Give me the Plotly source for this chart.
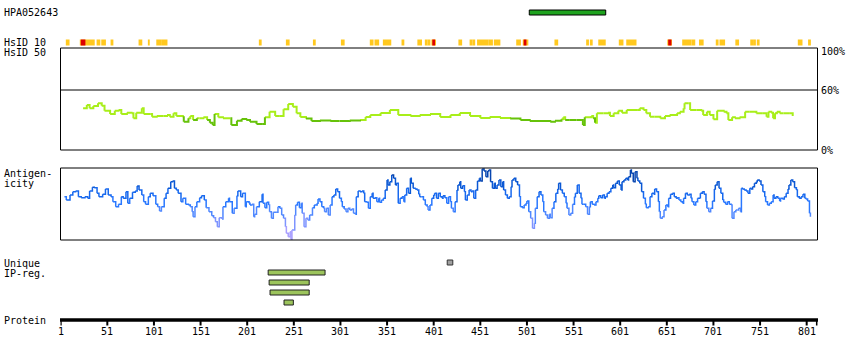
import plotly.graph_objects as go

W, H = 850, 360

# ---------------- data ----------------
antigen_name = "HPA052643"
antigen_start, antigen_end = 504, 585
protein_length = 812

hsid10_start = [7, 22, 40, 45, 55, 85, 95, 104, 110, 214, 243, 272, 302, 333, 338, 347, 367, 384, 392, 395,
                399, 428, 440, 443, 448, 460, 466, 490, 497, 531, 565, 569, 578, 600, 608, 652, 668, 678, 686,
                704, 708, 725, 741, 744, 748, 792, 803]
hsid10_end = [10, 37, 43, 49, 57, 88, 96, 109, 115, 216, 246, 274, 305, 336, 342, 355, 369, 388, 394, 397,
              403, 431, 442, 445, 459, 464, 472, 494, 502, 534, 567, 571, 585, 604, 618, 656, 677, 681, 690,
              706, 713, 728, 743, 746, 750, 796, 805]
hsid10_red_start = [23, 400, 498, 653]
hsid10_red_end = [27, 402, 500, 655.5]

hsid50_points = [
    (25, 41.7), (29, 45), (32, 41.7), (36, 44), (41, 46.7), (45, 44.3), (48, 39.3), (54, 36), (59, 39.3),
    (63, 40), (66, 36), (72, 37.3), (77, 36.7), (79, 31.7), (82, 37.3), (88, 41.7), (90, 36), (97, 36),
    (99, 33.3), (104, 34), (111, 34), (115, 35), (118, 33.3), (122, 36.7), (125, 34), (132, 32.7),
    (133, 28.3), (138, 31.7), (140, 34), (143, 30), (147, 31.7), (150, 31.7), (154, 32.7), (158, 30),
    (161, 27.3), (164, 25), (166, 36), (170, 32.7), (175, 31.7), (183, 31.7), (184, 25), (190, 29.3),
    (195, 31), (200, 30), (204, 28.3), (211, 26), (217, 26), (220, 32.7), (225, 38.3), (231, 34),
    (236, 34), (240, 40.7), (245, 46), (250, 43.3), (254, 36.7), (258, 33), (264, 31.5), (270, 29),
    (279, 29.5), (290, 29), (300, 29), (311, 29.5), (322, 30), (328, 33), (333, 35), (344, 37), (354, 40),
    (363, 35), (376, 34), (386, 35), (397, 36), (408, 33), (419, 35), (429, 37), (440, 34), (451, 32),
    (461, 33), (472, 32), (483, 31.5), (494, 30), (504, 29), (515, 29), (526, 28.3), (531, 29.3),
    (538, 30.7), (540, 32.7), (542, 30), (547, 30), (554, 30), (560, 30), (561, 25), (563, 32.7),
    (570, 34), (572, 31.7), (574, 27.3), (576, 36.7), (583, 36.7), (588, 37.3), (590, 34), (594, 36.7),
    (599, 39.3), (603, 37.3), (608, 40), (620, 40), (622, 41.7), (626, 40), (629, 36.7), (633, 33.3),
    (638, 33.3), (644, 31.7), (649, 34), (654, 35), (662, 36.7), (665, 38.3), (669, 41.7), (670, 46.7),
    (674, 46.7), (676, 40), (683, 40), (688, 39.3), (690, 35), (694, 38.3), (697, 35), (701, 30.7),
    (705, 39.3), (708, 39.3), (712, 38.3), (715, 36.7), (717, 30), (721, 32.7), (724, 31.7), (729, 32.7),
    (735, 38.3), (740, 38.3), (747, 36.7), (754, 36.7), (758, 33.3), (760, 38.3), (763, 37.3), (765, 31.7),
    (767, 36.7), (769, 38.3), (772, 36.7), (776, 36.7), (783, 36.7), (786, 34),
]

antigenicity_points = [
    (5, 43.3), (7, 40), (11, 45), (14, 48.3), (17, 49), (20, 43.3), (23, 42.3), (27, 43.3), (30, 41.7),
    (32, 49), (35, 52.7), (37, 52.3), (40, 46.7), (42, 43.3), (46, 45.7), (49, 51), (52, 45), (55, 43.3),
    (57, 38.3), (60, 33.3), (63, 35.7), (66, 43.3), (68, 41.7), (71, 48.3), (73, 36.7), (75, 41.7),
    (78, 47.7), (81, 49), (83, 54), (85, 50), (88, 45), (90, 38.3), (92, 35.7), (95, 43.3), (97, 46.7),
    (100, 44.3), (103, 35.7), (105, 33.3), (107, 29), (109, 33.3), (112, 41.7), (114, 46.7), (116, 51.7),
    (119, 58.3), (121, 59), (123, 51.7), (125, 50), (127, 46.7), (130, 38.3), (132, 41.7), (135, 35.7),
    (138, 35), (140, 33.3), (142, 28.3), (143, 23.3), (145, 33.3), (147, 38.3), (150, 42.3), (152, 44.3),
    (155, 40), (157, 32.3), (160, 28.3), (163, 24.3), (165, 22.3), (167, 18.3), (169, 13.3), (171, 22.3),
    (174, 21), (175, 33.3), (178, 38.3), (181, 41.7), (182, 38.3), (185, 26.7), (187, 31.7), (190, 44.3),
    (191, 49), (194, 43.3), (196, 46.7), (199, 33.3), (200, 38.3), (203, 36.7),
    (204, 35), (206, 35.7), (208, 23.3), (209, 25.7), (211, 33.3), (214, 38.3), (217, 45.7), (218, 36.7),
    (220, 32.3), (222, 37.7), (224, 35), (225, 28.3), (227, 21.7), (229, 27.7), (232, 27.7), (234, 33.3),
    (236, 31.7), (238, 25), (240, 21.7), (242, 13.3), (243, 6.7), (245, 3.3), (247, 8.3), (248, 0.5),
    (249, 10), (252, 25), (253, 35), (255, 37.7), (257, 32.3), (259, 36.7), (260, 26.7), (262, 13.3),
    (264, 21.7), (266, 20), (268, 25), (271, 32.3), (273, 35), (276, 36.7), (277, 41), (279, 38.3),
    (281, 33.3), (283, 31.7), (284, 28.3), (286, 31.7), (288, 25), (290, 35), (292, 43.3), (294, 45),
    (296, 51), (298, 48.3), (300, 41.7), (302, 38.3), (303, 33.3), (305, 31), (307, 28.3), (309, 31.7),
    (311, 30), (313, 31), (315, 26.7), (317, 25.7), (318, 43.3), (320, 49), (322, 48.3), (324, 49),
    (326, 46.7), (327, 38.3), (329, 37.7), (331, 31.7), (333, 43.3), (335, 46.7), (336, 41.7), (338, 42.3),
    (340, 38.3), (342, 41.7), (343, 37.7), (345, 40), (347, 41.7), (349, 50), (351, 60), (352, 55),
    (354, 58.3), (356, 65), (358, 61.7), (360, 55), (361, 56.7), (363, 36.7), (365, 41.7), (367, 43.3),
    (369, 38.3), (370, 45), (372, 51.7), (374, 46.7), (376, 61.7), (377, 56.7), (379, 51.7), (381, 51),
    (383, 50), (385, 45.7), (386, 43.3), (388, 43.3), (390, 40), (392, 35), (394, 33.3), (395, 30),
    (397, 35), (399, 41.7), (401, 45), (402, 46.7), (404, 41.7), (406, 46.7),
    (408, 43.3), (410, 41.7), (411, 44.3), (413, 42.3), (415, 36.7), (417, 43.3), (419, 38.3), (420, 31.7),
    (422, 28.3), (424, 38.3), (426, 50), (427, 55), (429, 58.3), (430, 51.7), (432, 54.3), (434, 48.3),
    (435, 40), (437, 45), (439, 50), (441, 48.3), (442, 49), (444, 41.7), (446, 50), (448, 59), (450, 61.7),
    (451, 59), (453, 71), (455, 69), (457, 63.3), (459, 69), (460, 70), (462, 58.3), (464, 51.7),
    (466, 56.7), (467, 51.7), (469, 55), (471, 60), (473, 53.3), (475, 58.3), (476, 50), (478, 45),
    (480, 41.7), (482, 43.3), (484, 53.3), (485, 60), (487, 61.7), (489, 58.3), (491, 55), (493, 43.3),
    (494, 33.3), (496, 32.3), (498, 35), (500, 36.7), (501, 39), (503, 28.3), (505, 21.7), (507, 11.7),
    (509, 16.7), (510, 31.7), (512, 43.3), (514, 48.3), (516, 45), (518, 38.3), (519, 28.3), (521, 25),
    (523, 21.7), (525, 25.7), (526, 22.3), (528, 31.7), (530, 38.3), (532, 46.7), (534, 51), (535, 56.7),
    (537, 50), (539, 46.7), (541, 43.3), (543, 36.7), (544, 31.7), (546, 25), (548, 26.7), (550, 35.7),
    (552, 43.3), (553, 46.7), (555, 55), (557, 46.7), (559, 41.7), (560, 35.7), (562, 35.7), (564, 33.3),
    (566, 25.7), (568, 33.3), (569, 38.3), (571, 35.7), (573, 35), (575, 38.3), (577, 41.7), (578, 44.3),
    (580, 42.3), (582, 45), (584, 41.7), (585, 43.3), (587, 46.7), (589, 48.3), (591, 51.7), (593, 55),
    (594, 52.3), (596, 56.7), (598, 59), (600, 55), (602, 50), (603, 58.3), (605, 60), (607, 61.7),
    (609, 60), (610, 63.3),
    (612, 70), (613, 66.7), (615, 58.3), (617, 68.3), (619, 61.7), (620, 59), (622, 56.7), (624, 48.3),
    (626, 41.7), (628, 35.7), (629, 32.3), (631, 33.3), (633, 43.3), (635, 46.7), (637, 45.7), (638, 51),
    (640, 48.3), (642, 38.3), (643, 28.3), (644, 21.7), (646, 23.3), (648, 30), (650, 35), (652, 33.3),
    (653, 41.7), (655, 45.7), (657, 46.7), (659, 43.3), (661, 41.7), (662, 42.3), (664, 40), (666, 38.3),
    (668, 36.7), (669, 41.7), (671, 46.7), (673, 45), (675, 45.7), (677, 41.7), (678, 38.3), (680, 35),
    (682, 38.3), (684, 41.7), (686, 42.3), (687, 46.7), (689, 48.3), (691, 45.7), (693, 38.3), (694, 31.7),
    (696, 28.3), (698, 31.7), (700, 39), (702, 51), (703, 55), (705, 58.3), (707, 51.7), (709, 46.7),
    (711, 40), (712, 37.7), (714, 35.7), (716, 38.3), (718, 35.7), (720, 35), (721, 21.7), (723, 28.3),
    (725, 30), (727, 30), (728, 31.7), (730, 28.3), (731, 51.7), (732, 51), (734, 50), (736, 49),
    (738, 46.7), (740, 51.7), (741, 51), (743, 53.3), (745, 56.7), (747, 58.3), (748, 60), (750, 59),
    (752, 55), (754, 48.3), (756, 43.3), (757, 38.3), (759, 35), (761, 36.7), (763, 38.3), (765, 45),
    (766, 41.7), (768, 43.3), (770, 41.7), (772, 39), (773, 41.7), (775, 41), (777, 43.3), (779, 46.7),
    (781, 51), (782, 55), (784, 60), (786, 58.3), (788, 52.3), (790, 50), (791, 43.3), (793, 41.7),
    (795, 43.3), (797, 45.7), (799, 41.7), (800, 41), (802, 39), (804, 26.7), (805, 23.3),
]

ipreg_start = [224, 225, 226, 241]
ipreg_end = [284, 267, 267, 250]
unique_start, unique_end = 416, 421

tick_labels = [1, 51, 101, 151, 201, 251, 301, 351, 401, 451, 501, 551, 601, 651, 701, 751, 801]

hsid50_pct_ticks = ["100%", "60%", "0%"]

# ---------------- helpers (layout) ----------------
def py(px):
    return 1 - px / H

def pxx(px):
    return px / W

FONT = dict(family="DejaVu Sans Mono", size=10, color="black")
BOX_L, BOX_R = 60.5, 817.5
res_lo = 0.79
res_hi = 812.6

fig = go.Figure()

# HsID 50 line (two shades of green), stepped
def green(v):
    return "#66c20a" if v < 31 else "#a8ee1a"

segs = {}
for (x0, y0), (x1, y1) in zip(hsid50_points[:-1], hsid50_points[1:]):
    c = green((y0 + y1) / 2)
    d = segs.setdefault(c, ([], []))
    d[0].extend([x0, x1, None])
    d[1].extend([y0, y1, None])
for c in ["#a8ee1a", "#66c20a"]:
    if c in segs:
        fig.add_trace(go.Scatter(x=segs[c][0], y=segs[c][1], mode="lines",
                                 line=dict(color=c, width=2, shape="hv"), xaxis="x", yaxis="y",
                                 hoverinfo="skip"))

# Antigenicity line, colored by value
def ag_color(v):
    if v >= 62:
        return "#0846b0"
    if v >= 52:
        return "#0b58d4"
    if v >= 42:
        return "#1768ee"
    if v >= 32:
        return "#2a78ff"
    if v >= 22:
        return "#5088ff"
    if v >= 12:
        return "#7e94ff"
    return "#a89eff"

segs = {}
for (x0, y0), (x1, y1) in zip(antigenicity_points[:-1], antigenicity_points[1:]):
    c = ag_color((y0 + y1) / 2)
    d = segs.setdefault(c, ([], []))
    d[0].extend([x0, x1, None])
    d[1].extend([y0, y1, None])
for c, (xs, ys) in segs.items():
    fig.add_trace(go.Scatter(x=xs, y=ys, mode="lines", line=dict(color=c, width=1.5, shape="hv"),
                             xaxis="x", yaxis="y2", hoverinfo="skip"))

shapes = []
# Panel boxes
shapes.append(dict(type="rect", xref="paper", yref="paper", x0=pxx(BOX_L), x1=pxx(BOX_R),
                   y0=py(150), y1=py(48), line=dict(color="black", width=1)))
shapes.append(dict(type="line", xref="paper", yref="y", x0=pxx(BOX_L), x1=pxx(BOX_R),
                   y0=60, y1=60, line=dict(color="black", width=1)))
shapes.append(dict(type="rect", xref="paper", yref="paper", x0=pxx(BOX_L), x1=pxx(BOX_R),
                   y0=py(240), y1=py(168), line=dict(color="black", width=1)))

# Antigen bar
shapes.append(dict(type="rect", xref="x", yref="paper", x0=antigen_start - 0.5, x1=antigen_end + 0.5,
                   y0=py(15), y1=py(10), fillcolor="#1fa31f", line=dict(color="black", width=1)))

# HsID 10 bars
for s, e in zip(hsid10_start, hsid10_end):
    shapes.append(dict(type="rect", xref="x", yref="paper", x0=s - 0.5, x1=e + 0.5,
                       y0=py(45.5), y1=py(39.5), fillcolor="#ffc81e", line=dict(width=0)))
for s, e in zip(hsid10_red_start, hsid10_red_end):
    shapes.append(dict(type="rect", xref="x", yref="paper", x0=s - 0.5, x1=e + 0.5,
                       y0=py(45.5), y1=py(39.5), fillcolor="#dd0000", line=dict(width=0)))

# Unique / IP-reg bars
shapes.append(dict(type="rect", xref="x", yref="paper", x0=unique_start - 0.5, x1=unique_end + 0.5,
                   y0=py(265), y1=py(260), fillcolor="#a0a0a0", line=dict(color="#333333", width=1)))
for i, (s, e) in enumerate(zip(ipreg_start, ipreg_end)):
    top = 270 + 10 * i
    shapes.append(dict(type="rect", xref="x", yref="paper", x0=s - 0.5, x1=e + 0.5,
                       y0=py(top + 5), y1=py(top), fillcolor="#9cc45c",
                       line=dict(color="#222222", width=1)))

# Protein axis
shapes.append(dict(type="rect", xref="paper", yref="paper", x0=pxx(60), x1=pxx(818),
                   y0=py(321.8), y1=py(318.3), fillcolor="black", line=dict(width=0)))
for t in tick_labels + [protein_length]:
    shapes.append(dict(type="line", xref="x", yref="paper", x0=t, x1=t,
                       y0=py(325.5), y1=py(320), line=dict(color="black", width=2)))

annotations = []
def label(text, x, y):
    annotations.append(dict(text=text, xref="paper", yref="paper", x=pxx(x), y=py(y),
                            xanchor="left", yanchor="middle", showarrow=False, font=FONT))

label(antigen_name, 1.5, 12.5)
label("HsID 10", 1.5, 42.5)
label("HsID 50", 1.5, 52.5)
label("Antigen-", 1.5, 173.5)
label("icity", 1.5, 183.5)
label("Unique", 1.5, 263)
label("IP-reg.", 1.5, 273)
label("Protein", 1.5, 320)
for txt, ypx in zip(hsid50_pct_ticks, [52, 90.7, 150]):
    label(txt, 818.5, ypx)

for t in tick_labels:
    annotations.append(dict(text=str(t), xref="x", yref="paper", x=t, y=py(331.5),
                            xanchor="center", yanchor="middle", showarrow=False, font=FONT))

fig.update_layout(
    width=W, height=H,
    margin=dict(l=0, r=0, t=0, b=0),
    paper_bgcolor="white", plot_bgcolor="white",
    showlegend=False,
    xaxis=dict(domain=[pxx(BOX_L), pxx(BOX_R)], range=[res_lo, res_hi], visible=False, fixedrange=True),
    yaxis=dict(domain=[py(150), py(48)], range=[0, 102], visible=False, fixedrange=True),
    yaxis2=dict(domain=[py(240), py(168)], range=[0, 72], visible=False, fixedrange=True),
    shapes=shapes,
    annotations=annotations,
)

fig.write_html("out.html", config={"displayModeBar": False},
               post_script="document.body.style.margin='0';document.body.style.padding='0';")
